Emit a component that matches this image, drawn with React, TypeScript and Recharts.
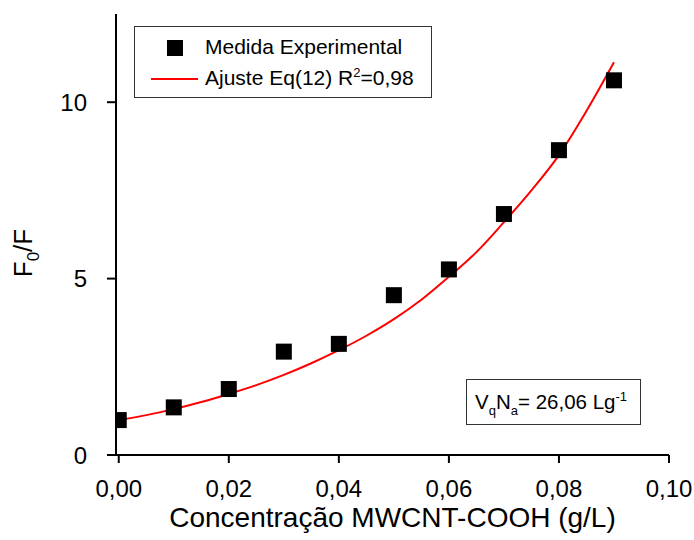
import {
  ComposedChart,
  Line,
  Scatter,
  XAxis,
  YAxis,
} from "recharts";

// measured quenching ratio vs. nanotube concentration
const concentrations = [0, 0.01, 0.02, 0.03, 0.04, 0.05, 0.06, 0.07, 0.08, 0.09];
const ratioMeasured = [0.99, 1.35, 1.87, 2.93, 3.15, 4.53, 5.26, 6.83, 8.64, 10.62];

// fitted curve, Eq(12)
const fitConcentrations = [
  0, 0.005, 0.01, 0.015, 0.02, 0.025, 0.03, 0.035, 0.04, 0.045, 0.05, 0.055,
  0.06, 0.065, 0.07, 0.075, 0.08, 0.085, 0.09,
];
const fitRatio = [
  0.99, 1.13, 1.3, 1.5, 1.73, 1.98, 2.27, 2.6, 2.97, 3.38, 3.85, 4.4, 5.05,
  5.75, 6.6, 7.5, 8.5, 9.75, 11.13,
];

const xMajorTicks = [0, 0.02, 0.04, 0.06, 0.08, 0.1];
const xMinorTicks = [0.01, 0.03, 0.05, 0.07, 0.09];
const xTopTicks = [0.01, 0.02, 0.03, 0.04, 0.05, 0.06, 0.07, 0.08, 0.09];
const yMajorTicks = [0, 5, 10];
const yMinorTicks = [2.5, 7.5];
const yRightTicks = [2.5, 5, 7.5, 10];

const measured = concentrations.map((x, i) => ({ x, y: ratioMeasured[i] }));
const fitCurve = fitConcentrations.map((x, i) => ({ x, y: fitRatio[i] }));

const FONT = "'Liberation Sans', Arial, sans-serif";
const X_DOMAIN: [number, number] = [-0.0005, 0.1];
const Y_DOMAIN: [number, number] = [0, 12.5];

const fmtX = (v: number) => v.toFixed(2).replace(".", ",");

function SquareMarker(props: any) {
  const { cx, cy } = props;
  if (cx == null || cy == null) return null;
  return <rect x={cx - 8} y={cy - 8} width={16} height={16} fill="#000" />;
}

function YTitle() {
  return (
    <text
      x={32}
      y={253}
      transform="rotate(-90 32 253)"
      textAnchor="middle"
      fontSize={26}
      fontFamily={FONT}
      fill="#000"
    >
      F
      <tspan fontSize={17} dy={7}>
        0
      </tspan>
      <tspan dy={-7}>/F</tspan>
    </text>
  );
}

export default function App() {
  const axisStroke = { stroke: "#000", strokeWidth: 2 };
  const tickStyle = { fontSize: 24, fill: "#000", fontFamily: FONT };
  return (
    <div
      style={{
        position: "relative",
        width: 694,
        height: 540,
        background: "#fff",
        fontFamily: FONT,
      }}
    >
      <style>{"body{margin:0}"}</style>
      <ComposedChart
        width={694}
        height={540}
        margin={{ top: 14, right: 25, bottom: 0, left: 0 }}
      >
        <XAxis
          xAxisId="b"
          type="number"
          dataKey="x"
          domain={X_DOMAIN}
          allowDataOverflow
          ticks={xMajorTicks}
          tickFormatter={fmtX}
          height={85}
          tickSize={8}
          tickMargin={17}
          tick={tickStyle}
          axisLine={axisStroke}
          tickLine={axisStroke}
          label={{
            value: "Concentração MWCNT-COOH (g/L)",
            position: "insideBottom",
            offset: 13,
            fontSize: 28,
            fill: "#000",
            fontFamily: FONT,
          }}
        />
        <XAxis
          xAxisId="bm"
          type="number"
          dataKey="x"
          domain={X_DOMAIN}
          allowDataOverflow
          ticks={xMinorTicks}
          height={0}
          tickSize={4}
          tick={false}
          axisLine={false}
          tickLine={axisStroke}
        />
        <XAxis
          xAxisId="t"
          orientation="top"
          type="number"
          dataKey="x"
          domain={X_DOMAIN}
          allowDataOverflow
          ticks={xTopTicks}
          height={0}
          mirror
          tickSize={4}
          tick={false}
          axisLine={axisStroke}
          tickLine={{ stroke: "#000", strokeWidth: 1 }}
        />
        <YAxis
          yAxisId="l"
          type="number"
          domain={Y_DOMAIN}
          allowDataOverflow
          ticks={yMajorTicks}
          width={116}
          tickSize={9}
          tickMargin={20}
          tick={tickStyle}
          axisLine={axisStroke}
          tickLine={axisStroke}
          label={{ content: YTitle }}
        />
        <YAxis
          yAxisId="lm"
          type="number"
          domain={Y_DOMAIN}
          allowDataOverflow
          ticks={yMinorTicks}
          width={0}
          tickSize={4}
          tick={false}
          axisLine={false}
          tickLine={axisStroke}
        />
        <YAxis
          yAxisId="r"
          orientation="right"
          type="number"
          domain={Y_DOMAIN}
          allowDataOverflow
          ticks={yRightTicks}
          width={0}
          mirror
          tickSize={4}
          tick={false}
          axisLine={axisStroke}
          tickLine={{ stroke: "#000", strokeWidth: 1 }}
        />
        <Scatter
          xAxisId="b"
          yAxisId="l"
          data={measured}
          dataKey="y"
          shape={SquareMarker}
          isAnimationActive={false}
        />
        <Line
          xAxisId="b"
          yAxisId="l"
          data={fitCurve}
          dataKey="y"
          type="monotone"
          stroke="#ff0000"
          strokeWidth={2}
          dot={false}
          activeDot={false}
          isAnimationActive={false}
        />
      </ComposedChart>

      {/* legend */}
      <div
        style={{
          position: "absolute",
          left: 134,
          top: 26,
          width: 296,
          height: 70,
          border: "1px solid #333",
          background: "#fff",
          fontSize: 21,
          color: "#000",
        }}
      >
        <div
          style={{ position: "absolute", left: 32, top: 13, width: 16, height: 16, background: "#000" }}
        />
        <div style={{ position: "absolute", left: 70, top: 8, whiteSpace: "nowrap" }}>
          Medida Experimental
        </div>
        <div
          style={{ position: "absolute", left: 16, top: 51, width: 47, height: 2, background: "#ff0000" }}
        />
        <div style={{ position: "absolute", left: 70, top: 39, whiteSpace: "nowrap" }}>
          Ajuste Eq(12) R
          <sup style={{ fontSize: 13, verticalAlign: "8px", lineHeight: 0 }}>2</sup>
          =0,98
        </div>
      </div>

      {/* fitted parameter */}
      <div
        style={{
          position: "absolute",
          left: 466,
          top: 379,
          width: 173,
          height: 44,
          border: "1px solid #333",
          background: "#fff",
          fontSize: 20.5,
          color: "#000",
        }}
      >
        <div style={{ position: "absolute", left: 8, top: 10, whiteSpace: "nowrap" }}>
          V<sub style={{ fontSize: 13, verticalAlign: "-6px", lineHeight: 0 }}>q</sub>N
          <sub style={{ fontSize: 13, verticalAlign: "-6px", lineHeight: 0 }}>a</sub>= 26,06 Lg
          <sup style={{ fontSize: 13, verticalAlign: "8px", lineHeight: 0 }}>-1</sup>
        </div>
      </div>
    </div>
  );
}
